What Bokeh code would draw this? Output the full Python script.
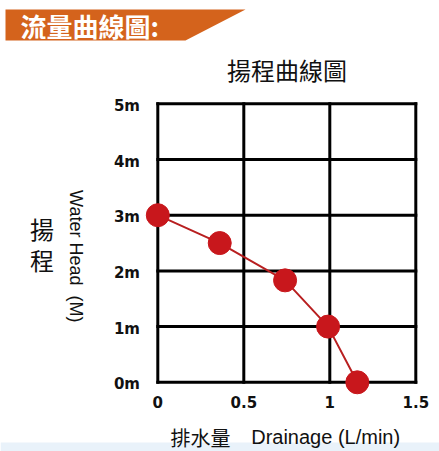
import math
from bokeh.plotting import figure
from bokeh.models import Range1d
from bokeh.core.properties import value
from bokeh.embed import file_html
from bokeh.resources import INLINE

# ---- data ----
flow = [0.0, 0.36, 0.74, 0.99, 1.16]          # L/min
head = [3.0, 2.5, 1.83, 1.0, 0.0]             # m
x_ticks = [0, 0.5, 1, 1.5]
x_tick_labels = ["0", "0.5", "1", "1.5"]
y_ticks = [0, 1, 2, 3, 4, 5]
y_tick_labels = ["0m", "1m", "2m", "3m", "4m", "5m"]
banner_text = ["流量曲線圖:"]
title_text = ["揚程曲線圖"]
ylabel_cjk = ["揚", "程"]
ylabel_en = ["Water Head\u00a0\u00a0(M)"]
xlabel_cjk = ["排水量"]
xlabel_en = ["Drainage (L/min)"]

# ---- layout: pixel positions on the canvas ----
W, H = 439, 451
X0_PX, Y0_PX = 157.3, 381.8      # canvas pixel of data (0, 0)
PX_PER_X, PX_PER_Y = 172.0, 55.7


def dx(px):
    return (px - X0_PX) / PX_PER_X


def dy(py):
    return (Y0_PX - py) / PX_PER_Y


p = figure(width=W, height=H, output_backend="svg", toolbar_location=None, title=None,
           x_range=Range1d(dx(0), dx(W)), y_range=Range1d(dy(H), dy(0)),
           x_axis_location=None, y_axis_location=None,
           min_border=0, min_border_left=0, min_border_right=0,
           min_border_top=0, min_border_bottom=0)
p.outline_line_color = None
p.grid.visible = False
p.background_fill_color = "white"
p.border_fill_color = "white"

CJK = value("Noto Sans CJK TC")
LAT = value("Liberation Sans")
INK = "#111111"

# light band at the bottom of the picture
p.quad(left=[dx(0)], right=[dx(W)], top=[dy(442)], bottom=[dy(H)],
       fill_color="#e9f2fa", line_color=None)

# banner
p.patch(x=[dx(5), dx(245), dx(185), dx(5)], y=[dy(9), dy(9), dy(40), dy(40)],
        fill_color="#d4631c", line_color=None)
p.text(x=[dx(20)], y=[dy(25)], text=banner_text, text_baseline="middle",
       text_color="white", text_font=CJK, text_font_style="bold",
       text_font_size=value("26px"))

# chart title
p.text(x=[dx(286.5)], y=[dy(68.5)], text=title_text, text_align="center",
       text_baseline="middle", text_font=CJK, text_font_size=value("24px"),
       text_color=INK)

# grid over the data box
n = len(x_ticks)
m = len(y_ticks)
p.segment(x0=x_ticks, y0=[y_ticks[0]] * n, x1=x_ticks, y1=[y_ticks[-1]] * n,
          line_color="black", line_width=3, line_cap="square")
p.segment(x0=[x_ticks[0]] * m, y0=y_ticks, x1=[x_ticks[-1]] * m, y1=y_ticks,
          line_color="black", line_width=3, line_cap="square")

# tick labels
p.text(x=x_ticks, y=[dy(401.7)] * n, text=x_tick_labels, text_align="center",
       text_baseline="middle", text_font=value("DejaVu Sans"), text_font_style="bold",
       text_font_size=value("15px"), text_color=INK)
p.text(x=[dx(139.5)] * m, y=y_ticks, text=y_tick_labels, text_align="right",
       text_baseline="middle", y_offset=2, text_font=value("DejaVu Sans"),
       text_font_style="bold", text_font_size=value("15px"), text_color=INK)

# series
p.line(flow, head, line_color="#b81f20", line_width=2)
p.scatter(flow, head, size=23, fill_color="#c8171c", line_color="#c8171c")

# axis titles
p.text(x=[dx(41.5)] * 2, y=[dy(227.5), dy(259)], text=ylabel_cjk, text_align="center",
       text_baseline="middle", text_font=CJK, text_font_size=value("24px"), text_color=INK)
p.text(x=[dx(75)], y=[dy(255.8)], text=ylabel_en, angle=-math.pi / 2,
       text_align="center", text_baseline="middle", text_font=LAT,
       text_font_size=value("18px"), text_color=INK)
p.text(x=[dx(170)], y=[dy(437)], text=xlabel_cjk, text_baseline="middle",
       text_font=CJK, text_font_size=value("20px"), text_color=INK)
p.text(x=[dx(250.7)], y=[dy(436)], text=xlabel_en, text_baseline="middle",
       text_font=LAT, text_font_size=value("20px"), text_color=INK)

open("out.html", "w").write(file_html(p, INLINE))
